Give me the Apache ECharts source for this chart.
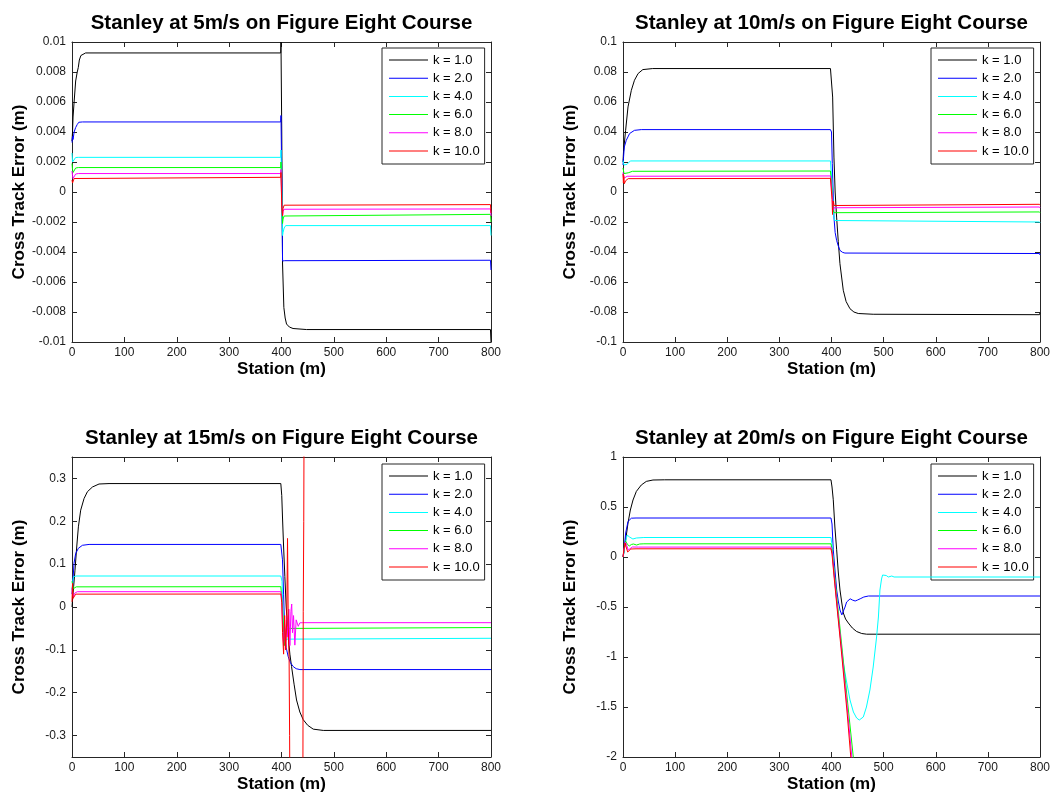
<!DOCTYPE html>
<html>
<head>
<meta charset="utf-8">
<script src="https://cdn.jsdelivr.net/npm/echarts@6/dist/echarts.min.js"></script>
<style>html,body{margin:0;padding:0;background:#fff}#c{width:1054px;height:797px}</style>
</head>
<body>
<div id="c"></div>
<script>
// ---------- data ----------
const seriesNames = ['k = 1.0', 'k = 2.0', 'k = 4.0', 'k = 6.0', 'k = 8.0', 'k = 10.0'];
const titles = [
  'Stanley at 5m/s on Figure Eight Course',
  'Stanley at 10m/s on Figure Eight Course',
  'Stanley at 15m/s on Figure Eight Course',
  'Stanley at 20m/s on Figure Eight Course'
];
const xTicks = [0, 100, 200, 300, 400, 500, 600, 700, 800];
const yTicks5 = [-0.01, -0.008, -0.006, -0.004, -0.002, 0, 0.002, 0.004, 0.006, 0.008, 0.01];
const yTicks10 = [-0.1, -0.08, -0.06, -0.04, -0.02, 0, 0.02, 0.04, 0.06, 0.08, 0.1];
const yTicks15 = [-0.3, -0.2, -0.1, 0, 0.1, 0.2, 0.3];
const yTicks20 = [-2, -1.5, -1, -0.5, 0, 0.5, 1];
const yRange5 = [-0.01, 0.01];
const yRange10 = [-0.1, 0.1];
const yRange15 = [-0.35, 0.35];
const yRange20 = [-2, 1];

// 5 m/s
const v5_k1 = [[0,0.0034],[1,0.0040],[2,0.0050],[4,0.0060],[7,0.0074],[10,0.0080],[12,0.0083],[14,0.0088],[17,0.0091],[26,0.00927],[398.5,0.00927],[399,0.0100],[400.5,0.0040],[402,-0.0048],[404.5,-0.0077],[407,-0.0084],[409.6,-0.0088],[415,-0.0090],[422,-0.0091],[448,-0.00917],[799,-0.00917],[800,-0.0100]];
const v5_k2 = [[0,0.0033],[1,0.0037],[2,0.0035],[4,0.0040],[7,0.0043],[10,0.0045],[13,0.00465],[20,0.00467],[398.5,0.00467],[399,0.0051],[400.5,0.0010],[402,-0.0046],[404,-0.0047],[406,-0.00458],[408,-0.00455],[799,-0.00455],[800,-0.0052]];
const v5_k4 = [[0,0.0026],[1,0.0020],[2,0.0019],[4,0.0021],[7,0.0023],[12,0.00231],[398.5,0.00231],[399,0.0028],[400.5,0.0000],[402,-0.0029],[403,-0.0027],[405,-0.0024],[408,-0.00224],[799,-0.00224],[800,-0.0029]];
const v5_k6 = [[0,0.0019],[1,0.0015],[2,0.0013],[4,0.0014],[7,0.0016],[12,0.00163],[398.5,0.00163],[399,0.0020],[400.5,-0.0005],[402,-0.0021],[403,-0.0018],[405,-0.0016],[408,-0.00149],[799,-0.00149],[800,-0.0020]];
const v5_k8 = [[0,0.0014],[1,0.0011],[2,0.0009],[4,0.0010],[7,0.0012],[12,0.00123],[398.5,0.00123],[399,0.0015],[400.5,-0.0008],[402,-0.0016],[403,-0.0013],[405,-0.00115],[408,-0.00113],[799,-0.00113],[800,-0.0016]];
const v5_k10 = [[0,0.0008],[1,0.0006],[2,0.0007],[4,0.0009],[7,0.00098],[398.5,0.00098],[399,0.0013],[400.5,-0.0010],[402,-0.0016],[403,-0.0011],[405,-0.00088],[408,-0.00084],[799,-0.00084],[800,-0.0014]];

// 10 m/s
const v10_k1 = [[0,0.020],[1,0.027],[5,0.041],[9.6,0.0567],[16,0.0678],[22,0.0745],[29,0.079],[38,0.0816],[57,0.0823],[398,0.0823],[400,0.081],[402.2,0.0633],[404.7,0.0233],[407,0.000],[409.8,-0.0167],[413,-0.033],[416.2,-0.0478],[422.6,-0.0655],[428,-0.073],[435.4,-0.0778],[443,-0.080],[451.3,-0.081],[480,-0.0815],[799,-0.0818],[800,-0.0805]];
const v10_k2 = [[0,0.018],[1,0.023],[2.5,0.030],[6.3,0.0345],[12.7,0.039],[22,0.0411],[35,0.0416],[398,0.0416],[400,0.040],[401.5,0.0189],[404.7,-0.0167],[407,-0.027],[409.8,-0.0322],[413,-0.036],[416.2,-0.0389],[421,-0.0402],[425.7,-0.0407],[799,-0.0410],[800,-0.0420]];
const v10_k4 = [[0,0.021],[2,0.018],[8,0.0185],[14,0.0207],[398,0.0207],[400,0.020],[402,0.000],[404,-0.015],[406,-0.019],[409,-0.0200],[799,-0.0200],[800,-0.0205]];
const v10_k6 = [[0,0.016],[2,0.0123],[10,0.0128],[18,0.0138],[398,0.014],[400,0.013],[401.5,0.000],[403,-0.012],[405,-0.0138],[408,-0.0133],[799,-0.0133],[800,-0.0138]];
const v10_k8 = [[0,0.013],[1,0.009],[3,0.0095],[8,0.0105],[398,0.0107],[400,0.0100],[401.5,-0.003],[403,-0.012],[405,-0.0105],[408,-0.0100],[799,-0.0100],[800,-0.0106]];
const v10_k10 = [[0,0.012],[0.8,0.006],[1.5,0.011],[2.5,0.0055],[5,0.0075],[10,0.0089],[398,0.0091],[400,0.0085],[401,-0.005],[402,-0.015],[403.5,-0.006],[405,-0.0090],[408,-0.0082],[799,-0.0082],[800,-0.0088]];

// 15 m/s
const v15_k1 = [[0,0.0],[1.9,0.03],[5.7,0.086],[9,0.14],[12.2,0.187],[16.6,0.226],[23,0.253],[29.4,0.269],[39,0.28],[51.6,0.287],[70.7,0.288],[398.7,0.288],[400.5,0.26],[401.9,0.21],[404,0.14],[406.4,0.071],[409,0.0],[412.8,-0.069],[416,-0.11],[419.2,-0.139],[424,-0.18],[428.7,-0.217],[435,-0.245],[441.5,-0.263],[450,-0.276],[460.6,-0.285],[479.7,-0.288],[800,-0.288]];
const v15_k2 = [[0,0.03],[1.9,0.063],[3.8,0.102],[7.1,0.125],[12.2,0.137],[19.9,0.144],[32.6,0.146],[398.7,0.146],[401.9,0.11],[404,0.03],[406.4,-0.069],[409,-0.095],[412.8,-0.116],[417,-0.13],[422.4,-0.139],[428,-0.144],[435.2,-0.146],[800,-0.146]];
const v15_k4 = [[0,0.04],[1.5,0.06],[3,0.071],[8,0.0723],[398.7,0.0723],[401,0.06],[403,-0.02],[405,-0.06],[407,-0.08],[410,-0.075],[412,-0.073],[800,-0.073]];
const v15_k6 = [[0,0.06],[1.5,0.05],[3,0.043],[8,0.047],[398.7,0.0474],[400,0.047],[402,0.0],[404,-0.06],[406,-0.09],[408,-0.06],[410,-0.045],[413,-0.05],[416,-0.048],[800,-0.048]];
const v15_k8 = [[0,0.045],[1,0.035],[2.5,0.024],[5,0.032],[10,0.0357],[398.7,0.0357],[400.5,0.02],[402,-0.04],[404,-0.09],[406,-0.03],[408,-0.1],[410,-0.02],[412,-0.07],[414,-0.005],[416,-0.09],[418,-0.01],[419.5,0.007],[421,-0.06],[423,-0.02],[425.5,-0.089],[428,-0.03],[430,-0.026],[432,-0.045],[435,-0.037],[440,-0.0366],[800,-0.0366]];
const v15_k10 = [[0,0.012],[1,0.055],[2,0.02],[3.8,0.024],[7,0.03],[398.7,0.0303],[400.5,0.01],[402,-0.06],[404,-0.11],[406,-0.02],[408,-0.10],[410,-0.03],[411.5,0.16],[413,-0.05],[414.5,-0.12],[415.5,-0.30],[416.5,-0.6],[440.5,-0.6],[441.5,-0.011],[442.5,0.2],[443.5,0.6]];

// 20 m/s
const v20_k1 = [[0,0.0],[1.3,0.005],[5.1,0.17],[9.6,0.34],[14.1,0.47],[19.2,0.57],[25.6,0.656],[35.1,0.72],[44.7,0.756],[57.5,0.77],[80,0.772],[399,0.772],[401,0.70],[403.4,0.572],[406.5,0.30],[409.9,0.072],[413,-0.15],[416.3,-0.33],[419.5,-0.45],[422.7,-0.56],[427,-0.62],[432.3,-0.66],[440,-0.71],[448.2,-0.745],[458,-0.765],[467.4,-0.772],[800,-0.772]];
const v20_k2 = [[0,0.0],[1.3,0.03],[5.1,0.24],[9.6,0.355],[16,0.388],[25,0.39],[399,0.39],[401,0.33],[403.4,0.072],[406.5,-0.12],[409.9,-0.33],[413,-0.44],[416.3,-0.53],[419.8,-0.579],[422.7,-0.56],[426,-0.50],[429,-0.45],[432,-0.43],[435.8,-0.418],[440,-0.43],[445.4,-0.44],[450,-0.43],[455,-0.418],[462,-0.40],[470.9,-0.39],[800,-0.39]];
const v20_k4 = [[0,0.0],[1.3,0.04],[5.1,0.155],[8,0.22],[12.5,0.20],[19,0.18],[25.6,0.19],[40,0.195],[399,0.195],[401,0.12],[405,-0.17],[410,-0.44],[414,-0.65],[418,-0.85],[422.7,-1.062],[429,-1.25],[435.5,-1.43],[442,-1.55],[448.2,-1.61],[453.3,-1.63],[457,-1.625],[461,-1.6],[467,-1.5],[473.7,-1.33],[480,-1.1],[486.5,-0.8],[490,-0.6],[492.9,-0.33],[496,-0.22],[498,-0.18],[500.9,-0.168],[505,-0.185],[509,-0.2],[515.7,-0.19],[520,-0.2],[800,-0.2]];
const v20_k6 = [[0,0.0],[1.3,0.04],[5,0.16],[8,0.13],[12,0.11],[16,0.125],[20,0.13],[26,0.12],[32,0.13],[40,0.132],[399,0.132],[401,0.08],[405,-0.13],[410,-0.39],[420,-0.90],[430,-1.41],[441.8,-2.0],[450,-2.42]];
const v20_k8 = [[0,0.0],[1.3,0.05],[4.5,0.15],[7,0.12],[10,0.07],[13,0.09],[18,0.1],[30,0.099],[399,0.099],[401,0.05],[405,-0.17],[410,-0.44],[420,-0.96],[430,-1.49],[439,-2.0],[448,-2.48]];
const v20_k10 = [[0,0.0],[1.3,0.06],[4,0.14],[6,0.1],[9,0.05],[12,0.07],[15,0.08],[25,0.082],[399,0.082],[401,0.03],[405,-0.2],[410,-0.47],[420,-1.0],[430,-1.56],[437,-2.0],[446,-2.5]];

// ---------- layout / style ----------
const panelData = [
  [v5_k1, v5_k2, v5_k4, v5_k6, v5_k8, v5_k10],
  [v10_k1, v10_k2, v10_k4, v10_k6, v10_k8, v10_k10],
  [v15_k1, v15_k2, v15_k4, v15_k6, v15_k8, v15_k10],
  [v20_k1, v20_k2, v20_k4, v20_k6, v20_k8, v20_k10]
];
const panelYTicks = [yTicks5, yTicks10, yTicks15, yTicks20];
const panelYRange = [yRange5, yRange10, yRange15, yRange20];
const colors = ['#000000', '#0000ff', '#00ffff', '#00ff00', '#ff00ff', '#ff0000'];
const grids = [
  {left: 72, top: 42, width: 419, height: 300},
  {left: 623, top: 42, width: 417, height: 300},
  {left: 72, top: 457, width: 419, height: 300},
  {left: 623, top: 457, width: 417, height: 300}
];
const FONT = '"Liberation Sans", Arial, Helvetica, sans-serif';
const AX = '#262626';
// thin horizontal line icon (zero-area triangles only stretch the bounding box)
const LINE_ICON = 'path://M0,0L1,0L0,0Z M0,6.5L100,6.5L100,7.5L0,7.5Z M0,14L1,14L0,14Z';

const xAxes = [], yAxes = [], series = [], titleArr = [], legends = [];
grids.forEach((g, i) => {
  const common = {
    gridIndex: i,
    axisLine: {show: true, onZero: false, lineStyle: {color: AX, width: 1}},
    axisTick: {show: true, inside: true, length: 5, lineStyle: {color: AX}},
    splitLine: {show: false}
  };
  xAxes[i] = Object.assign({}, common, {
    type: 'value', position: 'bottom', min: xTicks[0], max: xTicks[xTicks.length - 1], interval: 100,
    axisLabel: {show: true, margin: 5, color: '#1a1a1a', fontFamily: FONT, fontSize: 12},
    name: 'Station (m)', nameLocation: 'middle', nameGap: 19,
    nameTextStyle: {fontFamily: FONT, fontWeight: 'bold', fontSize: 17, color: '#000'}
  });
  xAxes[i + 4] = Object.assign({}, common, {
    type: 'value', position: 'top', min: xTicks[0], max: xTicks[xTicks.length - 1], interval: 100,
    axisLabel: {show: false}
  });
  const yt = panelYTicks[i], yr = panelYRange[i];
  yAxes[i] = Object.assign({}, common, {
    type: 'value', position: 'left', min: yr[0], max: yr[1],
    axisLabel: {show: true, margin: 6, color: '#1a1a1a', fontFamily: FONT, fontSize: 12,
      customValues: yt, formatter: v => String(+v.toPrecision(6))},
    axisTick: {show: true, inside: true, length: 5, lineStyle: {color: AX}, customValues: yt},
    name: 'Cross Track Error (m)', nameLocation: 'middle', nameGap: 44, nameRotate: 90,
    nameTextStyle: {fontFamily: FONT, fontWeight: 'bold', fontSize: 17, color: '#000'}
  });
  yAxes[i + 4] = Object.assign({}, common, {
    type: 'value', position: 'right', min: yr[0], max: yr[1],
    axisLabel: {show: false},
    axisTick: {show: true, inside: true, length: 5, lineStyle: {color: AX}, customValues: yt}
  });
  titleArr.push({
    text: titles[i], left: g.left + g.width / 2, top: i < 2 ? 13 : 428, textAlign: 'center', padding: 0,
    textStyle: {fontFamily: FONT, fontWeight: 'bold', fontSize: 20.5, color: '#000'}
  });
  legends.push({
    data: seriesNames.map(n => ({name: n, icon: LINE_ICON})), orient: 'vertical',
    left: i % 2 === 0 ? 382 : 931, top: i < 2 ? 48 : 464,
    itemWidth: 39, itemHeight: 14, itemGap: 4.2, symbolKeepAspect: false,
    padding: [5, 5, 6, 7],
    backgroundColor: '#fff', borderColor: AX, borderWidth: 1, borderRadius: 0,
    textStyle: {fontFamily: FONT, fontSize: 13, color: '#000'},
    selectedMode: false
  });
  panelData[i].forEach((d, j) => {
    series.push({
      type: 'line', name: seriesNames[j], data: d,
      xAxisIndex: i, yAxisIndex: i,
      symbol: 'none', showSymbol: false, clip: true,
      lineStyle: {color: colors[j], width: 1}, itemStyle: {color: colors[j]},
      z: 2 + j
    });
  });
});

const chart = echarts.init(document.getElementById('c'), null, {renderer: 'canvas'});
chart.setOption({
  animation: false,
  backgroundColor: '#fff',
  title: titleArr,
  legend: legends,
  grid: grids.map(g => Object.assign({containLabel: false}, g)),
  xAxis: xAxes,
  yAxis: yAxes,
  series: series
});
</script>
</body>
</html>
